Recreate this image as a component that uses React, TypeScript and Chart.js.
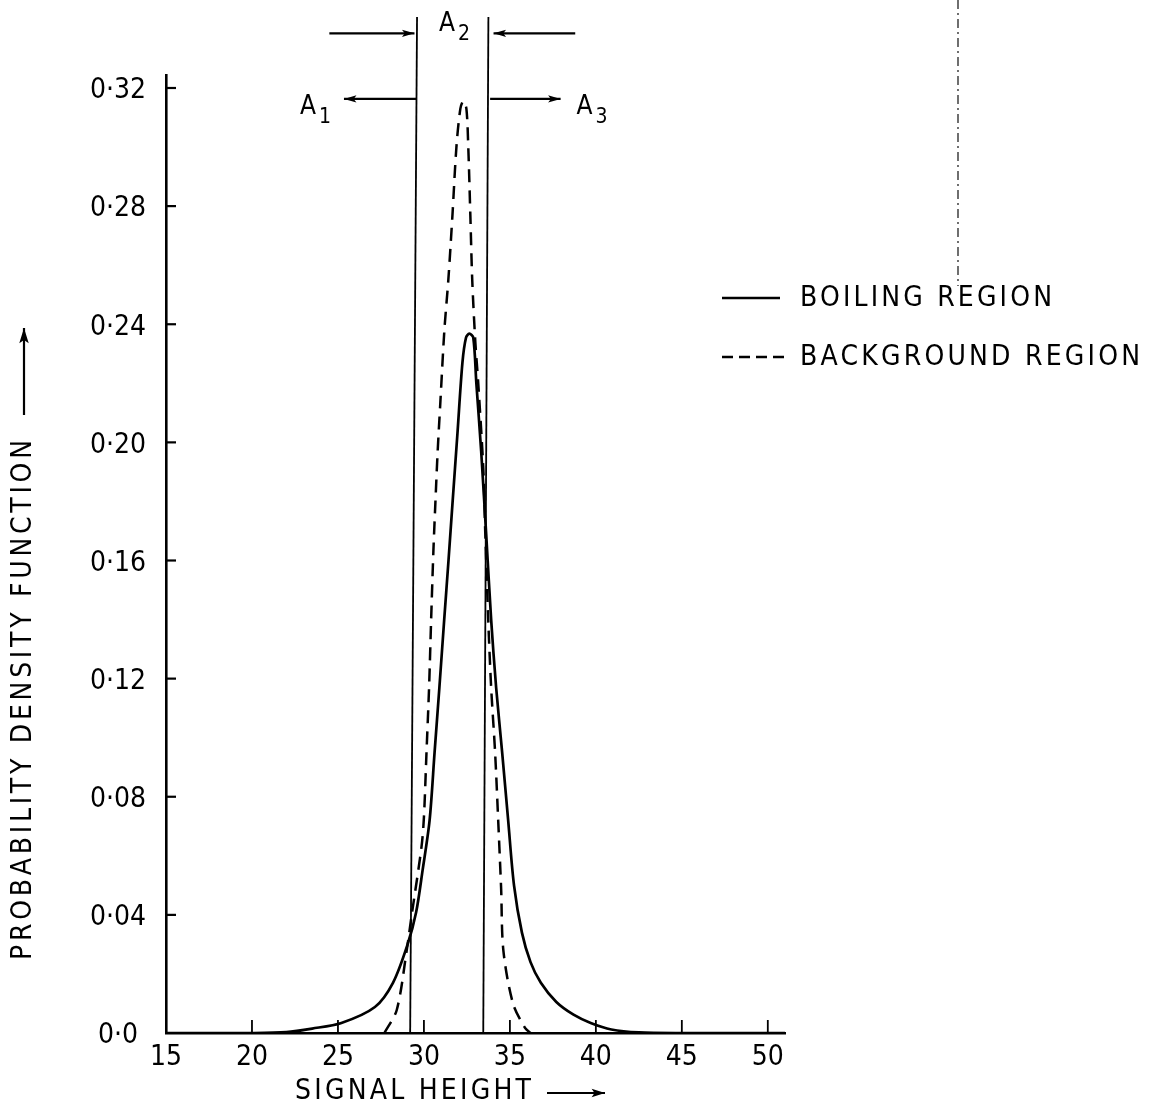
import React, { useEffect, useRef } from "react";
import { Chart, registerables } from "chart.js";

Chart.register(...registerables);

const FONT = "'Liberation Sans Narrow', 'DejaVu Sans Condensed', 'DejaVu Sans', sans-serif";

// ---- data ----
const xTickValues = [15, 20, 25, 30, 35, 40, 45, 50];
const xTickLabels = ["15", "20", "25", "30", "35", "40", "45", "50"];
const yTickValues = [0, 0.04, 0.08, 0.12, 0.16, 0.2, 0.24, 0.28, 0.32];
const yTickLabels = ["0·0", "0·04", "0·08", "0·12", "0·16", "0·20", "0·24", "0·28", "0·32"];

const boilingX = [15, 20, 22, 23.5, 25.2, 27.15, 28.2, 29.05, 29.55, 29.92, 30.33, 30.62, 30.9, 31.18, 31.43, 31.67, 31.95, 32.24, 32.45, 32.64, 32.87, 33.05, 33.33, 33.62, 33.91, 34.2, 34.55, 34.9, 35.24, 35.7, 36.2, 36.8, 37.7, 38.7, 39.7, 40.9, 42.5, 45, 51];
const boilingY = [0, 0, 0.0003, 0.0015, 0.0034, 0.0088, 0.017, 0.03, 0.041, 0.055, 0.072, 0.095, 0.117, 0.14, 0.16, 0.18, 0.203, 0.227, 0.2355, 0.2368, 0.2355, 0.22, 0.197, 0.169, 0.14, 0.117, 0.095, 0.072, 0.05, 0.034, 0.024, 0.017, 0.0105, 0.0062, 0.0034, 0.0012, 0.0002, 0, 0];

const backgroundX = [27.7, 28.42, 29.0, 29.29, 29.86, 30.0, 30.15, 30.3, 30.42, 30.55, 30.67, 30.8, 30.96, 31.19, 31.42, 31.66, 31.89, 32.12, 32.29, 32.47, 32.58, 32.7, 32.81, 32.99, 33.16, 33.45, 33.57, 33.74, 33.91, 34.14, 34.32, 34.49, 34.62, 35.18, 35.88, 36.2];
const backgroundY = [0, 0.0078, 0.028, 0.04, 0.063, 0.073, 0.095, 0.117, 0.14, 0.163, 0.18, 0.197, 0.214, 0.238, 0.255, 0.277, 0.3, 0.313, 0.3156, 0.313, 0.3, 0.277, 0.255, 0.234, 0.22, 0.1915, 0.169, 0.14, 0.117, 0.095, 0.072, 0.049, 0.028, 0.01, 0.0017, 0];

const seriesNames = ["BOILING REGION", "BACKGROUND REGION"];
const xTitle = "SIGNAL HEIGHT";
const yTitle = "PROBABILITY DENSITY FUNCTION";

// region boundaries: [x at top, x at bottom]
const boundaryA1A2 = [29.6, 29.2];
const boundaryA2A3 = [33.75, 33.45];
const boundaryTopY = 0.344;
const arrowRowUpper = 0.3385;
const arrowRowLower = 0.3163;
// arrows: [from x, to x]
const arrowIntoA2Left = [24.5, 29.45];
const arrowIntoA2Right = [38.8, 34.05];
const arrowA1 = [29.55, 25.35];
const arrowA3 = [33.85, 37.95];
const regionLetter = "A";
const regionSubs = ["1", "2", "3"];

const X_MIN = 15;
const X_MAX = 51;
const Y_MIN = 0;
const Y_MAX = 0.3244;

// ---- helpers ----
function line(ctx: CanvasRenderingContext2D, x1: number, y1: number, x2: number, y2: number) {
  ctx.beginPath();
  ctx.moveTo(x1, y1);
  ctx.lineTo(x2, y2);
  ctx.stroke();
}

function arrow(ctx: CanvasRenderingContext2D, x1: number, y1: number, x2: number, y2: number, head = 13, spread = 0.28) {
  line(ctx, x1, y1, x2, y2);
  const a = Math.atan2(y2 - y1, x2 - x1);
  ctx.beginPath();
  ctx.moveTo(x2, y2);
  ctx.lineTo(x2 - head * Math.cos(a - spread), y2 - head * Math.sin(a - spread));
  ctx.lineTo(x2 - head * 0.75 * Math.cos(a), y2 - head * 0.75 * Math.sin(a));
  ctx.lineTo(x2 - head * Math.cos(a + spread), y2 - head * Math.sin(a + spread));
  ctx.closePath();
  ctx.fill();
}

function fitText(ctx: CanvasRenderingContext2D, text: string, x: number, y: number, width: number, font: string) {
  ctx.font = font;
  (ctx as any).letterSpacing = "0px";
  const w = ctx.measureText(text).width;
  const n = text.length;
  const ls = n > 1 ? (width - w) / (n - 1) : 0;
  (ctx as any).letterSpacing = `${ls}px`;
  ctx.textAlign = "left";
  ctx.fillText(text, x, y);
  (ctx as any).letterSpacing = "0px";
}

// draws "A" + subscript with its left edge at x
function regionLabel(ctx: CanvasRenderingContext2D, sub: string, x: number, baseline: number) {
  ctx.textAlign = "left";
  ctx.font = `26px ${FONT}`;
  ctx.fillText(regionLetter, x, baseline);
  const w = ctx.measureText(regionLetter).width;
  ctx.font = `21px ${FONT}`;
  ctx.fillText(sub, x + w + 3, baseline + 9);
}

const annotationPlugin = {
  id: "annotations",
  afterDraw(chart: any) {
    const { ctx, chartArea } = chart;
    const xs = chart.scales.x;
    const ys = chart.scales.y;
    const px = (v: number) => xs.getPixelForValue(v);
    const py = (v: number) => ys.getPixelForValue(v);
    ctx.save();
    ctx.strokeStyle = "#000";
    ctx.fillStyle = "#000";
    ctx.lineCap = "butt";

    // inward tick marks
    ctx.lineWidth = 2.2;
    yTickValues.forEach((v) => {
      if (v === 0) return;
      const yy = py(v);
      line(ctx, chartArea.left, yy, chartArea.left + 10, yy);
    });
    ctx.lineWidth = 1.8;
    xTickValues.forEach((v) => {
      if (v === X_MIN) return;
      const xx = px(v);
      line(ctx, xx, chartArea.bottom, xx, chartArea.bottom - 13);
    });

    // region boundaries
    ctx.lineWidth = 1.8;
    line(ctx, px(boundaryA1A2[0]), py(boundaryTopY), px(boundaryA1A2[1]), py(0));
    line(ctx, px(boundaryA2A3[0]), py(boundaryTopY), px(boundaryA2A3[1]), py(0));

    // arrows
    ctx.lineWidth = 2.2;
    const yu = py(arrowRowUpper);
    const yl = py(arrowRowLower);
    arrow(ctx, px(arrowIntoA2Left[0]), yu, px(arrowIntoA2Left[1]), yu);
    arrow(ctx, px(arrowIntoA2Right[0]), yu, px(arrowIntoA2Right[1]), yu);
    arrow(ctx, px(arrowA1[0]), yl, px(arrowA1[1]), yl);
    arrow(ctx, px(arrowA3[0]), yl, px(arrowA3[1]), yl);

    // region labels
    ctx.textBaseline = "alphabetic";
    regionLabel(ctx, regionSubs[0], px(arrowA1[1]) - 44, yl + 15);
    regionLabel(ctx, regionSubs[1], px(boundaryA1A2[0]) + 22, yu - 2);
    regionLabel(ctx, regionSubs[2], px(arrowA3[1]) + 16, yl + 15);

    // legend
    ctx.textBaseline = "middle";
    ctx.lineWidth = 2.6;
    line(ctx, 722, 298, 780, 298);
    fitText(ctx, seriesNames[0], 800, 299, 252, `28px ${FONT}`);
    ctx.setLineDash([11, 6]);
    line(ctx, 722, 357, 787, 357);
    ctx.setLineDash([]);
    fitText(ctx, seriesNames[1], 800, 358, 340, `28px ${FONT}`);

    // y title (rotated) + arrow
    ctx.save();
    ctx.translate(24, 960);
    ctx.rotate(-Math.PI / 2);
    fitText(ctx, yTitle, 0, 0, 520, `28px ${FONT}`);
    ctx.restore();
    ctx.lineWidth = 2.2;
    arrow(ctx, 24, 415, 24, 328, 16, 0.3);

    // x title + arrow
    fitText(ctx, xTitle, 295, 1092, 236, `28px ${FONT}`);
    arrow(ctx, 547, 1093, 605, 1093, 14, 0.3);

    // faint dash-dot mark at top right (scan artefact)
    ctx.lineWidth = 1.3;
    ctx.strokeStyle = "#222";
    ctx.setLineDash([9, 4, 2, 4]);
    line(ctx, 958, 0, 958, 286);
    ctx.setLineDash([]);

    ctx.restore();
  },
};

export default function App() {
  const canvasRef = useRef<HTMLCanvasElement | null>(null);

  useEffect(() => {
    if (!canvasRef.current) return;
    const chart = new Chart(canvasRef.current, {
      type: "line",
      data: {
        datasets: [
          {
            label: seriesNames[0],
            data: boilingX.map((x, i) => ({ x, y: boilingY[i] })),
            borderColor: "#000",
            borderWidth: 2.7,
            pointRadius: 0,
            tension: 0.3,
            fill: false,
          },
          {
            label: seriesNames[1],
            data: backgroundX.map((x, i) => ({ x, y: backgroundY[i] })),
            borderColor: "#000",
            borderWidth: 2.5,
            borderDash: [13, 8],
            pointRadius: 0,
            tension: 0.3,
            fill: false,
          },
        ],
      },
      options: {
        animation: false,
        responsive: false,
        devicePixelRatio: 1,
        layout: { padding: { top: 75, right: 1162 - 785, left: 0, bottom: 0 } },
        plugins: { legend: { display: false }, tooltip: { enabled: false } },
        scales: {
          x: {
            type: "linear",
            min: X_MIN,
            max: X_MAX,
            afterBuildTicks: (s: any) => {
              s.ticks = xTickValues.map((v) => ({ value: v }));
            },
            afterFit: (s: any) => {
              s.height = 1107 - 1033;
            },
            grid: { display: false, drawTicks: false },
            border: { display: true, color: "#000", width: 2.6 },
            ticks: {
              color: "#000",
              font: { family: FONT, size: 28 },
              padding: 8,
              maxRotation: 0,
              autoSkip: false,
              callback: (_v: any, i: number) => xTickLabels[i],
            },
          },
          y: {
            type: "linear",
            min: Y_MIN,
            max: Y_MAX,
            afterBuildTicks: (s: any) => {
              s.ticks = yTickValues.map((v) => ({ value: v }));
            },
            afterFit: (s: any) => {
              s.width = 166;
            },
            grid: { display: false, drawTicks: false },
            border: { display: true, color: "#000", width: 2.6 },
            ticks: {
              color: "#000",
              font: { family: FONT, size: 28 },
              padding: 20,
              crossAlign: "center",
              labelOffset: 3,
              autoSkip: false,
              callback: (_v: any, i: number) => yTickLabels[i],
            },
          },
        },
      },
      plugins: [annotationPlugin],
    } as any);
    return () => chart.destroy();
  }, []);

  return (
    <div style={{ position: "absolute", left: 0, top: 0, width: 1162, height: 1107, background: "#fff" }}>
      <canvas ref={canvasRef} width={1162} height={1107} style={{ display: "block", width: 1162, height: 1107 }} />
    </div>
  );
}
